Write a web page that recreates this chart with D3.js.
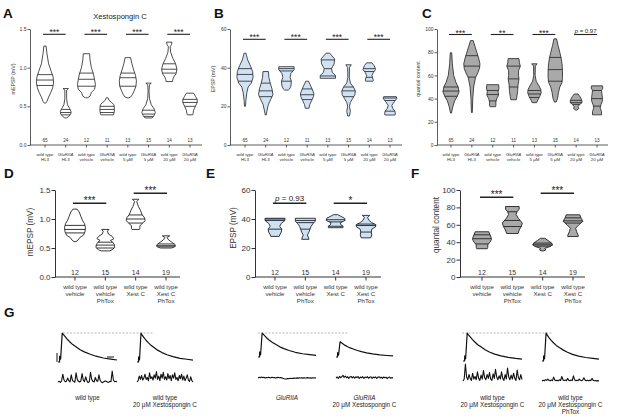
<!DOCTYPE html>
<html>
<head>
<meta charset="utf-8">
<script src="https://cdnjs.cloudflare.com/ajax/libs/d3/7.8.5/d3.min.js"></script>
<style>
  body { margin: 0; background: #fff; }
  svg { font-family: "Liberation Sans", Arial, sans-serif; }
</style>
</head>
<body>
<div id="chart"></div>
<script>
// ---------- data: top row (A, B, C) ----------
var topLine1 = ["wild type", "GluRIIA", "wild type", "GluRIIA", "wild type", "GluRIIA", "wild type", "GluRIIA"];
var topLine2 = ["HL3", "HL3", "vehicle", "vehicle", "5 \u03bcM", "5 \u03bcM", "20 \u03bcM", "20 \u03bcM"];
var topN = [65, 24, 12, 11, 13, 15, 14, 13];

// each violin: pts = [value, relative density], q = [q1, median, q3]
var mepspTop = [
  {pts: [[1.28,0.12],[1.18,0.22],[1.05,0.4],[0.95,0.7],[0.88,0.9],[0.80,0.95],[0.74,0.85],[0.68,0.65],[0.62,0.4],[0.56,0.2],[0.54,0.05]], q: [0.77,0.84,0.91]},
  {pts: [[0.73,0.3],[0.71,0.1],[0.60,0.1],[0.52,0.2],[0.47,0.45],[0.43,0.6],[0.40,0.55],[0.37,0.35],[0.35,0.1]], q: [0.39,0.42,0.46]},
  {pts: [[1.18,0.35],[1.10,0.4],[1.0,0.55],[0.93,0.75],[0.85,0.9],[0.78,1.0],[0.72,0.9],[0.68,0.55],[0.63,0.4],[0.61,0.1]], q: [0.76,0.85,0.93]},
  {pts: [[0.61,0.1],[0.58,0.2],[0.55,0.5],[0.52,0.75],[0.48,0.8],[0.44,0.8],[0.41,0.75],[0.39,0.7]], q: [0.42,0.46,0.50]},
  {pts: [[1.13,0.3],[1.05,0.45],[0.97,0.65],[0.90,0.85],[0.83,0.95],[0.76,0.9],[0.70,0.7],[0.65,0.5],[0.62,0.3],[0.61,0.1]], q: [0.76,0.87,0.93]},
  {pts: [[0.80,0.3],[0.78,0.1],[0.70,0.05],[0.60,0.1],[0.52,0.3],[0.47,0.6],[0.42,0.75],[0.38,0.6],[0.35,0.4]], q: [0.37,0.40,0.45]},
  {pts: [[1.33,0.3],[1.30,0.25],[1.27,0.1],[1.20,0.15],[1.12,0.4],[1.05,0.7],[0.98,0.85],[0.92,0.75],[0.88,0.5],[0.85,0.4],[0.82,0.35]], q: [0.93,0.98,1.05]},
  {pts: [[0.67,0.4],[0.63,0.6],[0.59,0.8],[0.55,0.8],[0.50,0.6],[0.45,0.4],[0.41,0.35],[0.39,0.3]], q: [0.50,0.55,0.59]}
];
var epspTop = [
  {pts: [[47.5,0.1],[44,0.3],[41,0.6],[38,0.85],[35,0.9],[32,0.7],[30,0.35],[27,0.2],[23,0.1],[20,0.05]], q: [33,36.5,39.5]},
  {pts: [[38,0.3],[35,0.35],[32,0.5],[29,0.7],[26,0.8],[24,0.6],[21,0.3],[18,0.15],[15.5,0.05]], q: [25,28,32]},
  {pts: [[40.5,0.85],[39,0.85],[37,0.5],[35,0.4],[33,0.55],[30.5,0.5],[29,0.35],[28.4,0.2]], q: [33,38.3,39.5]},
  {pts: [[33,0.15],[31,0.35],[29,0.55],[26.5,0.75],[25,0.7],[23,0.5],[21,0.3],[19,0.2]], q: [23.5,26,29]},
  {pts: [[47.5,0.2],[44.5,0.75],[42,0.7],[39.5,0.4],[37.5,0.5],[36,0.85],[34.5,0.85]], q: [35.7,39.5,44]},
  {pts: [[41.5,0.3],[40,0.1],[35,0.08],[32,0.2],[30,0.55],[28,0.75],[26,0.7],[24,0.45],[22,0.2],[20,0.1],[17.5,0.2],[15,0.1]], q: [25,28,30]},
  {pts: [[42.5,0.3],[41,0.55],[39,0.7],[37.5,0.45],[36,0.3],[35,0.35],[33.5,0.45],[33,0.4]], q: [35,38,39.5]},
  {pts: [[25,0.7],[24,0.75],[22.5,0.5],[20.5,0.2],[19,0.3],[17.5,0.55],[16,0.6],[15.5,0.55]], q: [17.5,23,24.3]}
];
var qcTop = [
  {pts: [[79.5,0.08],[70,0.15],[60,0.3],[54,0.55],[50,0.8],[46,0.9],[42,0.7],[38,0.4],[33,0.2],[27.5,0.05]], q: [42,46.5,50]},
  {pts: [[90,0.15],[85,0.35],[80,0.55],[75,0.75],[70,0.9],[66,0.85],[62,0.65],[58,0.4],[50,0.2],[40,0.1],[28,0.05]], q: [58.5,68,77]},
  {pts: [[52,0.65],[49,0.7],[46,0.6],[43,0.65],[40,0.45],[37,0.35],[34,0.35],[33,0.3]], q: [38,43.5,47]},
  {pts: [[74.5,0.6],[71,0.65],[68,0.75],[64,0.55],[60,0.55],[57,0.6],[52,0.5],[46,0.45],[41,0.35],[39,0.3]], q: [50,57,68]},
  {pts: [[70,0.3],[68,0.1],[60,0.08],[55,0.2],[51,0.5],[48,0.7],[45,0.75],[42,0.6],[39,0.4],[36.5,0.25]], q: [41,44,47]},
  {pts: [[91.5,0.15],[86,0.3],[80,0.5],[75,0.65],[70,0.75],[64,0.8],[58,0.8],[54,0.75],[50,0.5],[45,0.35],[40,0.25],[37,0.1]], q: [55,65,75.5]},
  {pts: [[44,0.2],[42,0.4],[40,0.55],[38,0.65],[36.5,0.65],[35,0.4],[33,0.2],[31.5,0.3],[30,0.05]], q: [35,36.5,38.5]},
  {pts: [[51,0.6],[49,0.65],[47,0.5],[44,0.55],[41,0.6],[38,0.6],[35,0.45],[32,0.35],[29,0.5],[26,0.5]], q: [33.5,40,47]}
];
var sigA = [[0, 1, "***"], [2, 3, "***"], [4, 5, "***"], [6, 7, "***"]];
var sigB = [[0, 1, "***"], [2, 3, "***"], [4, 5, "***"], [6, 7, "***"]];
var sigC = [[0, 1, "***"], [2, 3, "**"], [4, 5, "***"], [6, 7, "p = 0.97"]];

// ---------- data: middle row (D, E, F) ----------
var phLines = [["wild type", "vehicle"], ["wild type", "vehicle", "PhTox"], ["wild type", "Xest C"], ["wild type", "Xest C", "PhTox"]];
var phN = [12, 15, 14, 19];
var mepspPh = [
  {pts: [[1.17,0.2],[1.12,0.4],[1.05,0.55],[0.98,0.7],[0.92,0.9],[0.85,1.0],[0.78,0.95],[0.72,0.8],[0.68,0.45],[0.64,0.3],[0.61,0.1]], q: [0.76,0.82,0.89]},
  {pts: [[0.82,0.35],[0.79,0.2],[0.74,0.3],[0.70,0.65],[0.66,0.8],[0.63,0.5],[0.60,0.7],[0.56,0.85],[0.51,0.9],[0.47,0.65],[0.45,0.4]], q: [0.50,0.55,0.60]},
  {pts: [[1.34,0.3],[1.30,0.1],[1.22,0.25],[1.15,0.45],[1.08,0.6],[1.02,0.85],[0.97,0.9],[0.92,0.6],[0.88,0.4],[0.84,0.4],[0.82,0.35]], q: [0.93,1.0,1.07]},
  {pts: [[0.71,0.35],[0.68,0.1],[0.64,0.25],[0.60,0.55],[0.56,0.85],[0.53,0.9],[0.51,0.7],[0.50,0.5]], q: [0.52,0.54,0.57]}
];
var epspPh = [
  {pts: [[40.5,0.95],[39,0.95],[37,0.6],[35,0.45],[33,0.65],[31,0.6],[29,0.45],[28,0.4]], q: [33,39,40]},
  {pts: [[40.5,0.95],[38.5,0.95],[37,0.75],[35,0.55],[33,0.45],[31,0.35],[29,0.2],[27,0.3],[26,0.35]], q: [33,37.5,39]},
  {pts: [[43,0.2],[42,0.45],[40.5,0.85],[39,0.9],[37.5,0.45],[36,0.5],[35,0.7],[34,0.7]], q: [35,38,39.5]},
  {pts: [[42.5,0.35],[41,0.15],[39,0.3],[37.5,0.55],[36,0.95],[34.5,0.9],[33,0.55],[31,0.5],[29,0.55],[27,0.45]], q: [31,35.5,36.5]}
];
var qcPh = [
  {pts: [[52,0.65],[49,0.75],[46,0.85],[43,0.9],[40,0.75],[37,0.55],[34,0.55],[32.5,0.5]], q: [38,44,48.5]},
  {pts: [[81,0.65],[78,0.65],[75,0.45],[72,0.35],[67,0.6],[62,0.95],[58,0.85],[54,0.65],[50,0.55]], q: [58,65,75]},
  {pts: [[44.5,0.2],[42,0.5],[39,0.85],[37,0.95],[35,0.7],[33,0.2],[31,0.3],[30,0.1]], q: [35.5,37,39]},
  {pts: [[71.5,0.65],[68,0.75],[64,0.95],[60,0.55],[56,0.25],[52,0.35],[48,0.5],[46.5,0.5]], q: [62,64.5,68]}
];
var sigD = [[0, 1, "***"], [2, 3, "***"]];
var sigE = [[0, 1, "p = 0.93"], [2, 3, "*"]];
var sigF = [[0, 1, "***"], [2, 3, "***"]];

// ---------- data: G traces (ms, mV) ----------
var epspT = [0, 1.5, 1.6, 2.5, 4, 5, 7, 9, 11, 14, 17, 21, 25, 30, 36, 43, 50, 56];
var epspWT    = [0, 0, 8, 4, 40, 38, 34.5, 31, 28, 24, 21, 17, 14, 11, 8, 5.5, 4, 2.8];
var epspWTX   = [0, 0, 7, 3, 40, 37.5, 33.5, 30, 27, 23, 20, 16, 13, 10, 7.5, 5, 3.8, 2.7];
var epspGlu   = [0, 0, 7, 3, 33, 31.5, 28.5, 25.5, 23, 20, 17.5, 14, 11.5, 9, 6.5, 4.5, 3.3, 2.3];
var epspGluX  = [0, 0, 6, 2.5, 21, 20, 18, 16, 14.5, 12.5, 11, 9, 7.5, 5.8, 4.2, 3, 2.1, 1.5];
var epspWTX2  = [0, 0, 7, 3, 38.5, 36.5, 33, 29.5, 26.5, 22.5, 19.5, 15.5, 12.5, 9.5, 7, 5, 3.6, 2.6];
var epspPhTox = [0, 0, 7, 3, 38.5, 36, 32, 28.5, 25.5, 21.5, 18.5, 15, 12, 9.2, 6.8, 4.8, 3.5, 2.5];

var miniWT   = [0,0.05,-0.03,0.1,0.6,0.15,0.02,0.05,0.3,0.1,0,0.55,0.12,0.05,-0.02,0.7,0.2,0.05,0,0.08,0.65,0.15,0.03,0.4,0.1,-0.05,0.02,0.75,0.2,0.05,0,0.35,0.1,0.05,0.55,0.12,0,-0.05,0.02,0.08,0.05,0,-0.03,0.05,0.02,0.85,0.15,0.02,0.05,0];
var miniWTX  = [0,0.1,0.45,0.2,0.5,0.15,0.3,0.6,0.2,0.35,0.1,0.7,0.25,0.4,0.15,0.55,0.3,0.8,0.2,0.45,0.1,0.6,0.3,0.75,0.2,0.4,0.15,0.65,0.25,0.5,0.1,0.55,0.3,0.7,0.2,0.35,0.1,0.5,0.25,0.6,0.15,0.45,0.1,0.3,0.55,0.15,0.05,0.4,0.1,0];
var miniGlu  = [0,0.05,0.02,0.08,0.03,0.06,0,0.04,0.02,0.05,0.01,0.03,0.06,0.02,0.04,0,0.03,0.05,0.02,0.04,0.01,-0.02,-0.06,-0.08,-0.07,-0.05,-0.06,-0.03,-0.04,-0.02,-0.03,0,-0.02,0.01,-0.01,0.02,0,0.01,-0.01,0.02,0,0.01,0.03,0,0.01,-0.01,0.02,0,0.01,0];
var miniGluX = [0,0.08,-0.04,0.12,0.02,0.1,0.2,0.05,0.15,0.02,0.1,-0.03,0.08,0.12,0,0.1,-0.02,0.09,0.04,0.11,-0.03,0.07,0.02,0.1,-0.04,0.08,0.03,0.1,-0.02,0.06,0.1,-0.03,0.07,0.02,0.09,-0.04,0.06,0.1,0,0.07,-0.03,0.08,0.02,0.06,-0.05,0.04,0.07,-0.02,0.03,0];
var miniWTX2 = [0,0.15,1.3,0.3,0.1,0.5,0.2,0.05,0.6,0.15,0.35,0.1,0.7,0.2,0.05,0.45,0.15,0.8,0.25,0.1,0.5,0.2,0.65,0.15,0.05,0.55,0.2,0.9,0.3,0.1,0.4,0.15,0.7,0.2,0.05,0.5,0.15,1.0,0.3,0.1,0.45,0.15,0.6,0.2,0.05,0.85,0.25,0.1,0.5,0.1];
var miniPh   = [0,0.05,0.02,0.1,0.05,0.15,0.05,0.02,0.08,0.03,0.3,0.08,0.02,0.06,0.01,0.1,0.04,0.35,0.1,0.03,0.07,0.02,0.2,0.05,0.02,0.08,0.03,0.4,0.1,0.03,0.06,0.02,0.15,0.05,0.02,0.07,0.25,0.08,0.02,0.05,0.01,0.06,0.03,0.2,0.05,0.02,0.04,0.01,0.03,0];

// ---------- drawing ----------
var svg = d3.select("#chart").append("svg")
  .attr("width", 617).attr("height", 419);

var INK = "#222";

function widthAt(pts, v) {
  for (var i = 0; i < pts.length - 1; i++) {
    var a = pts[i], b = pts[i + 1];
    if (v <= a[0] && v >= b[0]) {
      var t = (a[0] - v) / (a[0] - b[0]);
      return a[1] + (b[1] - a[1]) * t;
    }
  }
  return 0;
}

function panelLetter(t, x, y) {
  svg.append("text").attr("x", x).attr("y", y).attr("font-size", 13.5)
    .attr("font-weight", "bold").attr("fill", "#111").text(t);
}

function addSigText(sel, str) {
  if (str.indexOf("p =") === 0) {
    sel.append("tspan").attr("font-style", "italic").text("p");
    sel.append("tspan").text(str.slice(1));
  } else {
    sel.text(str);
  }
}

function drawPanel(p) {
  var g = svg.append("g");
  var y = d3.scaleLinear().domain([0, p.max]).range([p.yBot, p.yTop]);
  var x = d3.scalePoint().domain(d3.range(p.data.length)).range(p.cx);
  var w = d3.scaleLinear().domain([0, 1]).range([0, p.hw]);

  // y axis
  var ya = g.append("g").attr("transform", "translate(" + p.x0 + ",0)")
    .call(d3.axisLeft(y).tickValues(p.ticks).tickFormat(d3.format(p.fmt))
      .tickSize(p.tick).tickSizeOuter(0).tickPadding(1));
  ya.selectAll("text").attr("font-size", p.fs).attr("fill", "#333").attr("font-family", null);
  ya.selectAll("line,path").attr("stroke", "#333").attr("stroke-width", p.sw);

  // x axis
  g.append("line").attr("x1", p.x0).attr("x2", p.x1).attr("y1", p.yBot).attr("y2", p.yBot)
    .attr("stroke", "#333").attr("stroke-width", p.sw);
  g.selectAll(".xt").data(p.data).enter().append("line")
    .attr("x1", function(d, i) { return x(i); }).attr("x2", function(d, i) { return x(i); })
    .attr("y1", p.yBot).attr("y2", p.yBot + p.tick)
    .attr("stroke", "#333").attr("stroke-width", p.sw);

  // y label
  g.append("text").attr("transform", "translate(" + p.ylx + "," + p.yly + ") rotate(-90)")
    .attr("text-anchor", "middle").attr("font-size", p.yfs).attr("fill", "#333").text(p.ylabel);

  // violins
  p.data.forEach(function(v, i) {
    var cx = x(i);
    var area = d3.area()
      .x0(function(d) { return cx - w(d[1]); })
      .x1(function(d) { return cx + w(d[1]); })
      .y(function(d) { return y(d[0]); });
    g.append("path").attr("d", area(v.pts)).attr("fill", p.fill)
      .attr("stroke", p.stroke).attr("stroke-width", p.vsw).attr("stroke-linejoin", "round");
    v.q.forEach(function(qv) {
      var hw = w(widthAt(v.pts, qv));
      g.append("line").attr("x1", cx - hw).attr("x2", cx + hw)
        .attr("y1", y(qv)).attr("y2", y(qv))
        .attr("stroke", p.stroke).attr("stroke-width", p.vsw);
    });
  });

  // n counts
  g.selectAll(".n").data(p.n).enter().append("text")
    .attr("x", function(d, i) { return x(i); }).attr("y", p.nY)
    .attr("text-anchor", "middle").attr("font-size", p.nfs).attr("fill", "#333")
    .text(function(d) { return d; });

  // category labels
  p.cats.forEach(function(lines, i) {
    lines.forEach(function(s, k) {
      g.append("text").attr("x", x(i)).attr("y", p.catY + k * p.catDy)
        .attr("text-anchor", "middle").attr("font-size", p.cfs).attr("fill", "#333")
        .attr("font-style", s === "GluRIIA" ? "italic" : null).text(s);
    });
  });

  // significance bars
  p.sig.forEach(function(s, k) {
    var by = p.sigY[k];
    var xa = x(s[0]) - 2, xb = x(s[1]) + p.sigExt;
    g.append("line").attr("x1", xa).attr("x2", xb).attr("y1", by).attr("y2", by)
      .attr("stroke", INK).attr("stroke-width", p.bsw);
    var isP = s[2].indexOf("p =") === 0;
    var t = g.append("text").attr("x", (xa + xb) / 2)
      .attr("y", isP ? by - p.pOff : by + p.starOff)
      .attr("text-anchor", "middle").attr("font-size", isP ? p.pfs : p.sfs).attr("fill", INK);
    addSigText(t, s[2]);
  });
}

var topCats = topLine1.map(function(s, i) { return [s, topLine2[i]]; });
var topBase = {
  yTop: 29, yBot: 145, hw: 9, tick: 2.5, sw: 0.8, fs: 5, yfs: 5.2, vsw: 0.8,
  n: topN, nY: 142, nfs: 4.6, cats: topCats, catY: 155.5, catDy: 5, cfs: 4.4,
  bsw: 1.1, sfs: 8.5, pfs: 6, starOff: 1, pOff: 1.5, sigExt: 0, yly: 79
};
drawPanel(Object.assign({}, topBase, {
  data: mepspTop, x0: 30, x1: 202, cx: [45, 190], max: 1.5, ticks: [0, 0.5, 1, 1.5], fmt: ".1f",
  fill: "#fff", stroke: INK, ylabel: "mEPSP (mV)", ylx: 15, sig: sigA, sigY: [34.3, 34.3, 34.3, 34.3]
}));
drawPanel(Object.assign({}, topBase, {
  data: epspTop, x0: 230, x1: 402, cx: [245, 390], max: 60, ticks: [0, 20, 40, 60], fmt: "d",
  fill: "#d3e2f1", stroke: "#1d2430", ylabel: "EPSP (mV)", ylx: 215, sig: sigB, sigY: [39.3, 39.3, 39.3, 39.3]
}));
drawPanel(Object.assign({}, topBase, {
  data: qcTop, x0: 437, x1: 608, cx: [451, 597], max: 100, ticks: [0, 20, 40, 60, 80, 100], fmt: "d",
  fill: "#a9a9a9", stroke: INK, ylabel: "quantal content", ylx: 420, sig: sigC, sigY: [34.5, 34.5, 34.5, 34.5]
}));

var phBase = {
  yTop: 190, yBot: 277, hw: 10.5, tick: 3.5, sw: 1, fs: 8, yfs: 8.2, vsw: 0.9,
  n: phN, nY: 275, nfs: 7, cats: phLines, catY: 289, catDy: 6.8, cfs: 6.1,
  bsw: 1.4, sfs: 10, pfs: 8, starOff: 0.8, pOff: 2.5, sigExt: 1, yly: 232
};
drawPanel(Object.assign({}, phBase, {
  data: mepspPh, x0: 55, x1: 180, cx: [75, 166], max: 1.5, ticks: [0, 0.5, 1, 1.5], fmt: ".1f",
  fill: "#fff", stroke: INK, ylabel: "mEPSP (mV)", ylx: 33, sig: sigD, sigY: [203.3, 193.3]
}));
drawPanel(Object.assign({}, phBase, {
  data: epspPh, x0: 255, x1: 381, cx: [275, 366], max: 60, ticks: [0, 20, 40, 60], fmt: "d",
  fill: "#cfe0f1", stroke: "#1d2430", ylabel: "EPSP (mV)", ylx: 236, yly: 228, sig: sigE, sigY: [203.3, 203.3]
}));
drawPanel(Object.assign({}, phBase, {
  data: qcPh, x0: 460, x1: 585, cx: [482, 573], max: 100, ticks: [0, 20, 40, 60, 80, 100], fmt: "d",
  fill: "#a9a9a9", stroke: INK, ylabel: "quantal content", ylx: 439, yly: 225, sig: sigF, sigY: [197.3, 193.3]
}));

// title and letters
svg.append("text").attr("x", 120).attr("y", 19).attr("text-anchor", "middle")
  .attr("font-size", 7.6).attr("fill", "#222").text("Xestospongin C");
panelLetter("A", 3, 18);
panelLetter("B", 214, 18);
panelLetter("C", 422, 18);
panelLetter("D", 4, 178);
panelLetter("E", 206, 178);
panelLetter("F", 411, 178);
panelLetter("G", 4, 317);

// ---------- G: traces ----------
var groups = [
  {dash: [63, 153], base: 362, miniBase: 382,
   traces: [{x: [58, 117], epsp: epspWT, mini: miniWT, label: ["wild type"]},
            {x: [137, 193], epsp: epspWTX, mini: miniWTX, label: ["wild type", "20 \u03bcM Xestospongin C"]}]},
  {dash: [258, 348], base: 357, miniBase: 378,
   traces: [{x: [258, 316], epsp: epspGlu, mini: miniGlu, label: ["GluRIIA"]},
            {x: [336, 393], epsp: epspGluX, mini: miniGluX, label: ["GluRIIA", "20 \u03bcM Xestospongin C"]}]},
  {dash: [462, 553], base: 361, miniBase: 381,
   traces: [{x: [463, 522], epsp: epspWTX2, mini: miniWTX2, label: ["wild type", "20 \u03bcM Xestospongin  C"]},
            {x: [542, 599], epsp: epspPhTox, mini: miniPh, label: ["wild type", "20 \u03bcM Xestospongin C", "PhTox"]}]}
];

var mvPx = 0.725;   // px per mV for evoked
var miniPx = 13;    // px per mV for minis

groups.forEach(function(gr) {
  var gg = svg.append("g");
  gg.append("line").attr("x1", gr.dash[0]).attr("x2", gr.dash[1])
    .attr("y1", 333).attr("y2", 333)
    .attr("stroke", "#9a9a9a").attr("stroke-width", 0.7).attr("stroke-dasharray", "2,1.5");
  var yE = d3.scaleLinear().domain([0, 1]).range([gr.base, gr.base - mvPx]);
  var yM = d3.scaleLinear().domain([0, 1]).range([gr.miniBase, gr.miniBase - miniPx]);
  gr.traces.forEach(function(tr) {
    var xE = d3.scaleLinear().domain([0, d3.max(epspT)]).range(tr.x);
    var lineE = d3.line().x(function(d, i) { return xE(epspT[i]); }).y(function(d) { return yE(d); });
    gg.append("path").attr("d", lineE(tr.epsp)).attr("fill", "none")
      .attr("stroke", "#111").attr("stroke-width", 1.2).attr("stroke-linejoin", "round");
    var xM = d3.scaleLinear().domain([0, tr.mini.length - 1]).range(tr.x);
    var lineM = d3.line().x(function(d, i) { return xM(i); }).y(function(d) { return yM(d); });
    gg.append("path").attr("d", lineM(tr.mini)).attr("fill", "none")
      .attr("stroke", "#111").attr("stroke-width", 1.1).attr("stroke-linejoin", "round");
    var cx = (tr.x[0] + tr.x[1]) / 2;
    tr.label.forEach(function(s, k) {
      gg.append("text").attr("x", cx).attr("y", 399.5 + k * 7)
        .attr("text-anchor", "middle").attr("font-size", 6.3).attr("fill", "#222")
        .attr("font-style", s === "GluRIIA" ? "italic" : null).text(s);
    });
  });
});

// scale bars (group 1)
svg.append("line").attr("x1", 57).attr("x2", 57).attr("y1", 353).attr("y2", 362)
  .attr("stroke", "#111").attr("stroke-width", 1);
svg.append("line").attr("x1", 107).attr("x2", 114).attr("y1", 357).attr("y2", 357)
  .attr("stroke", "#111").attr("stroke-width", 1);
</script>
</body>
</html>
